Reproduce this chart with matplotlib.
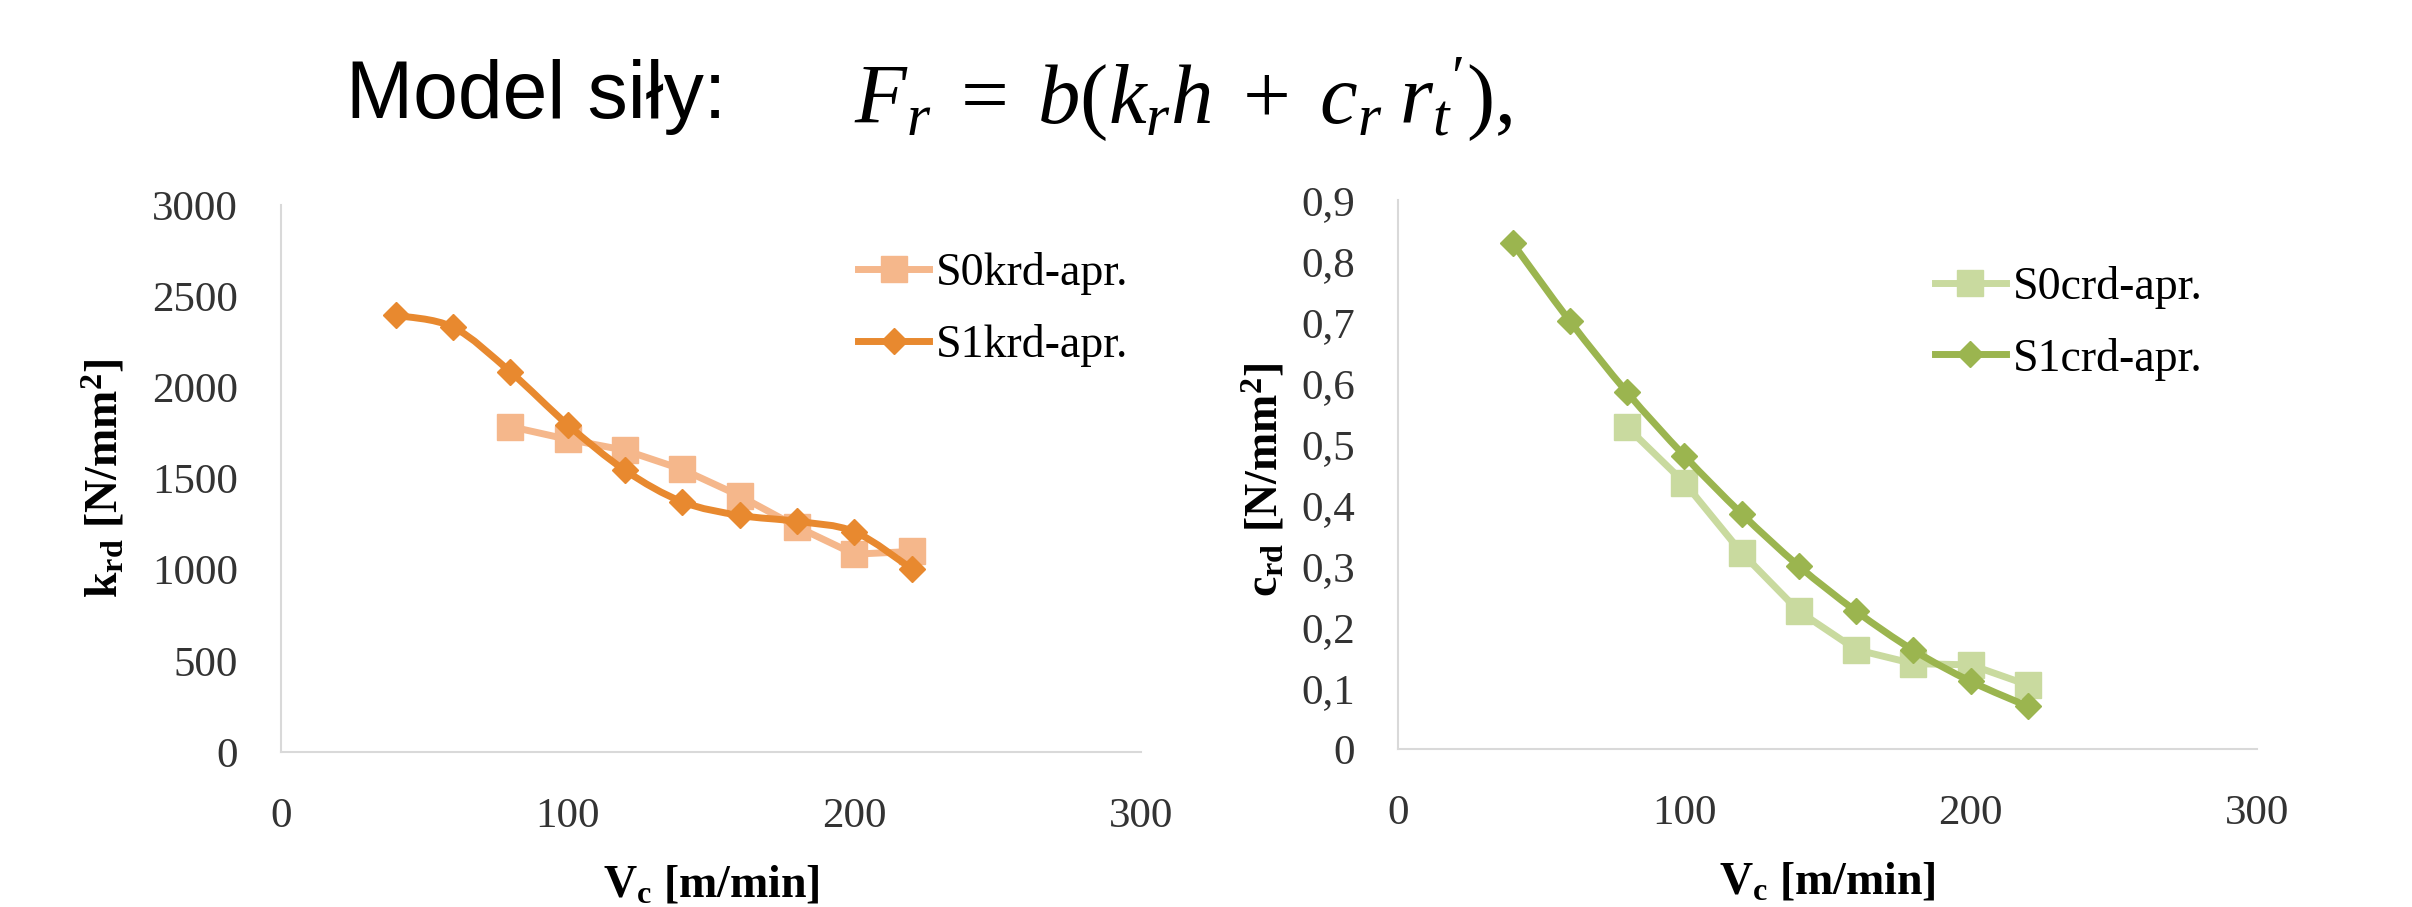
import matplotlib
matplotlib.use("Agg")
import matplotlib.pyplot as plt
from matplotlib.path import Path
from matplotlib.patches import PathPatch
from matplotlib.lines import Line2D
import numpy as np

plt.rcParams['mathtext.fontset'] = 'custom'
plt.rcParams['mathtext.rm'] = 'Liberation Serif'
plt.rcParams['mathtext.it'] = 'Liberation Serif:italic'
plt.rcParams['mathtext.bf'] = 'Liberation Serif:bold'

# ---- data ----
vc_s0 = [80, 100, 120, 140, 160, 180, 200, 220]
vc_s1 = [40, 60, 80, 100, 120, 140, 160, 180, 200, 220]

krd_s0 = [1785, 1715, 1655, 1550, 1405, 1235, 1085, 1100]
krd_s1 = [2395, 2330, 2085, 1795, 1545, 1372, 1298, 1265, 1208, 1005]

crd_s0 = [0.528, 0.437, 0.322, 0.226, 0.163, 0.140, 0.138, 0.105]
crd_s1 = [0.830, 0.702, 0.585, 0.481, 0.386, 0.300, 0.226, 0.162, 0.111, 0.070]

labels_k = ["S0krd-apr.", "S1krd-apr."]
labels_c = ["S0crd-apr.", "S1crd-apr."]

k_ticks = [0, 500, 1000, 1500, 2000, 2500, 3000]
c_ticks = [0, 0.1, 0.2, 0.3, 0.4, 0.5, 0.6, 0.7, 0.8, 0.9]
c_ticklabels = ["0", "0,1", "0,2", "0,3", "0,4", "0,5", "0,6", "0,7", "0,8", "0,9"]
x_ticks = [0, 100, 200, 300]

col_k0, col_k1 = "#F5B78B", "#E8892F"
col_c0, col_c1 = "#C9DA9F", "#9BB54F"

SERIF = "Liberation Serif"
TICK_FS = 31
LAB_FS = 33
LEG_FS = 33


def smooth_path(x, y):
    """Excel-style smoothed line as cubic Bezier path through the data points."""
    x = np.asarray(x, float)
    y = np.asarray(y, float)
    n = len(x)
    verts = [(x[0], y[0])]
    codes = [Path.MOVETO]
    for i in range(n - 1):
        i0 = max(i - 1, 0)
        i3 = min(i + 2, n - 1)
        c1 = (x[i] + (x[i + 1] - x[i0]) / 6, y[i] + (y[i + 1] - y[i0]) / 6)
        c2 = (x[i + 1] - (x[i3] - x[i]) / 6, y[i + 1] - (y[i3] - y[i]) / 6)
        verts += [c1, c2, (x[i + 1], y[i + 1])]
        codes += [Path.CURVE4] * 3
    return Path(verts, codes)


fig = plt.figure(figsize=(24.12, 9.07), dpi=100)
fig.patch.set_facecolor("white")

ax1 = fig.add_axes([0.1165, 0.1709, 0.3566, 0.603])
ax2 = fig.add_axes([0.5796, 0.1742, 0.3561, 0.605])

LW = 5
MS_SQ = 19
MS_D = 13


def style(ax):
    for s in ["top", "right"]:
        ax.spines[s].set_visible(False)
    for s in ["left", "bottom"]:
        ax.spines[s].set_color("#D9D9D9")
        ax.spines[s].set_linewidth(1.5)
    ax.tick_params(length=0, labelsize=TICK_FS, colors="#333333")
    ax.tick_params(axis="y", pad=31)
    ax.tick_params(axis="x", pad=33)
    ax.set_xlim(0, 300)
    ax.set_xticks(x_ticks)
    ax.set_xticklabels([str(t) for t in x_ticks], fontfamily=SERIF)


def draw(ax, xs0, ys0, xs1, ys1, c0, c1, labels, legend_anchor, lspace):
    ax.plot(xs0, ys0, color=c0, lw=LW, marker="s", ms=MS_SQ, zorder=3)
    ax.add_patch(PathPatch(smooth_path(xs1, ys1), facecolor="none", edgecolor=c1,
                           lw=LW, zorder=4, capstyle="round", joinstyle="round"))
    ax.plot(xs1, ys1, ls="none", color=c1, marker="D", ms=MS_D, zorder=5)
    handles = [Line2D([], [], color=c0, lw=LW, marker="s", ms=MS_SQ),
               Line2D([], [], color=c1, lw=LW, marker="D", ms=MS_D)]
    ax.legend(handles, labels, loc="upper left", bbox_to_anchor=legend_anchor,
              frameon=False, prop={"family": SERIF, "size": LEG_FS},
              handlelength=1.55, handletextpad=0.15, labelspacing=lspace,
              borderaxespad=0, borderpad=0)


style(ax1)
ax1.set_ylim(0, 3000)
ax1.set_yticks(k_ticks)
ax1.set_yticklabels([str(t) for t in k_ticks], fontfamily=SERIF)
draw(ax1, vc_s0, krd_s0, vc_s1, krd_s1, col_k0, col_k1, labels_k, (0.671, 0.915), 0.64)
ax1.set_xlabel(r"V$_{\mathbf{c}}$ [m/min]", fontfamily=SERIF, fontweight="bold",
               fontsize=LAB_FS)
ax1.set_ylabel(r"k$_{\mathbf{rd}}$ [N/mm$^{\mathbf{2}}$]", fontfamily=SERIF,
               fontweight="bold", fontsize=LAB_FS)
ax1.xaxis.set_label_coords(0.5, -0.205)
ax1.yaxis.set_label_coords(-0.178, 0.50)

style(ax2)
ax2.set_ylim(0, 0.9)
ax2.set_yticks(c_ticks)
ax2.set_yticklabels(c_ticklabels, fontfamily=SERIF)
draw(ax2, vc_s0, crd_s0, vc_s1, crd_s1, col_c0, col_c1, labels_c, (0.625, 0.880), 0.62)
ax2.set_xlabel(r"V$_{\mathbf{c}}$ [m/min]", fontfamily=SERIF, fontweight="bold",
               fontsize=LAB_FS)
ax2.set_ylabel(r"c$_{\mathbf{rd}}$ [N/mm$^{\mathbf{2}}$]", fontfamily=SERIF,
               fontweight="bold", fontsize=LAB_FS)
ax2.xaxis.set_label_coords(0.5, -0.205)
ax2.yaxis.set_label_coords(-0.129, 0.49)

fig.text(346 / 2412, 1 - 97 / 907, "Model siły:", fontfamily="Liberation Sans",
         fontsize=58, va="center", ha="left", color="black")
fig.text(854 / 2412, 1 - 99 / 907,
         r"$F_r\;=\;b(k_r h\;+\;c_r\; r_t{}^{\prime}),$",
         fontsize=61, va="center", ha="left", color="black")

fig.savefig("out.png", dpi=100, facecolor="white")
